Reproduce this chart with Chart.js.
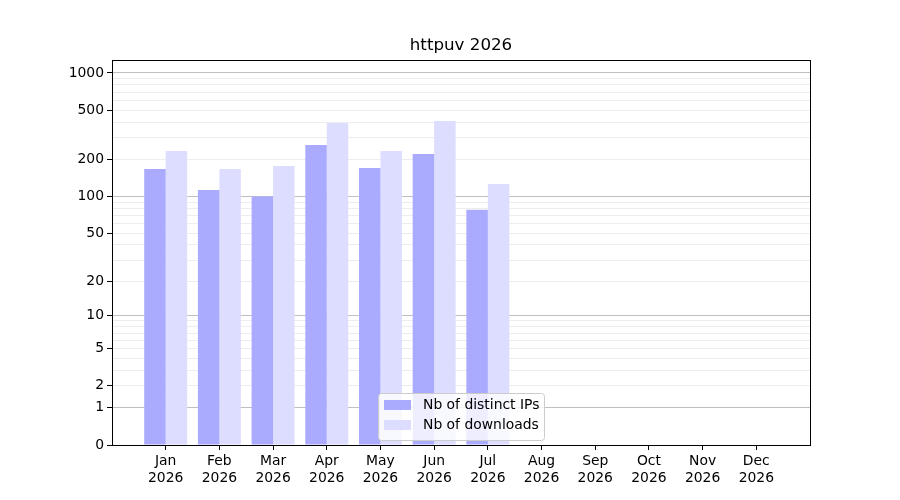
<!DOCTYPE html>
<html lang="en">
  <head>
    <meta charset="UTF-8" />
    <title>httpuv 2026</title>
    <script src="https://cdn.jsdelivr.net/npm/chart.js@4/dist/chart.umd.min.js"></script>
    <style>
      html, body { margin: 0; padding: 0; background: #fff; }
      #wrap { width: 900px; height: 500px; }
    </style>
  </head>
  <body>
    <div id="wrap"><canvas id="myChart" width="900" height="500"></canvas></div>

    <script>
      // data
      var months = ["Jan", "Feb", "Mar", "Apr", "May", "Jun", "Jul", "Aug", "Sep", "Oct", "Nov", "Dec"];
      var year = "2026";
      var distinctIPs = [167, 113, 100, 262, 170, 221, 78, 0, 0, 0, 0, 0];
      var downloads = [234, 167, 177, 394, 234, 409, 126, 0, 0, 0, 0, 0];
      var yTickLabels = [0, 1, 2, 5, 10, 20, 50, 100, 200, 500, 1000];
      var yDecades = [1, 10, 100, 1000];

      // y axis is log10(1 + v), like the original
      function f(v) { return Math.log10(1 + v); }

      var gridValues = [0];
      yDecades.forEach(function (d) {
        for (var m = 1; m <= 9; m++) gridValues.push(d * m);
      });

      class Log1pScale extends Chart.Scale {
        static id = "log1p";
        static defaults = {};
        determineDataLimits() {
          var mm = this.getMinMax(true);
          this.min = this.options.min != null ? this.options.min : 0;
          this.max = this.options.max != null ? this.options.max : mm.max;
        }
        buildTicks() {
          var self = this;
          return gridValues
            .filter(function (v) { return v >= self.min && v <= self.max; })
            .map(function (v) { return { value: v, major: yDecades.indexOf(v) >= 0 }; });
        }
        generateTickLabels(ticks) {
          ticks.forEach(function (t) {
            t.label = yTickLabels.indexOf(t.value) >= 0 ? String(t.value) : "";
          });
        }
        getLabelForValue(v) { return String(v); }
        configure() {
          super.configure();
          this._startValue = f(this.min);
          this._valueRange = f(this.max) - f(this.min);
        }
        getPixelForValue(v) {
          return this.getPixelForDecimal((f(v) - this._startValue) / this._valueRange);
        }
        getValueForPixel(p) {
          return Math.pow(10, this._startValue + this.getDecimalForPixel(p) * this._valueRange) - 1;
        }
      }
      Chart.register(Log1pScale);

      Chart.defaults.font.family = "'DejaVu Sans', sans-serif";
      Chart.defaults.font.size = 13.9;
      Chart.defaults.color = "#000";

      function pts(arr) {
        return arr.map(function (v, i) { return { x: i, y: v }; });
      }

      // frame + legend box drawn like matplotlib
      var framePlugin = {
        id: "frame",
        afterDraw: function (chart) {
          var ctx = chart.ctx, a = chart.chartArea;
          ctx.save();
          ctx.strokeStyle = "#000";
          ctx.lineWidth = 1;
          ctx.strokeRect(Math.round(a.left) + 0.5, Math.round(a.top) + 0.5,
            Math.round(a.right - a.left), Math.round(a.bottom - a.top));

          // legend
          var w = 166, h = 47;
          var lx = (a.left + a.right) / 2 - w / 2;
          var ly = a.bottom - 5 - h;
          ctx.beginPath();
          ctx.roundRect(lx + 0.5, ly + 0.5, w, h, 3);
          ctx.fillStyle = "rgba(255,255,255,0.8)";
          ctx.fill();
          ctx.strokeStyle = "#cccccc";
          ctx.stroke();
          ctx.font = "13.9px 'DejaVu Sans', sans-serif";
          ctx.textBaseline = "middle";
          chart.data.datasets.forEach(function (ds, i) {
            var cy = ly + 12 + i * 20;
            ctx.fillStyle = ds.backgroundColor;
            ctx.fillRect(lx + 6, cy - 5, 27, 10);
            ctx.fillStyle = "#000";
            ctx.fillText(ds.label, lx + 45, cy);
          });
          ctx.restore();
        },
      };

      new Chart("myChart", {
        type: "bar",
        data: {
          datasets: [
            {
              label: "Nb of distinct IPs",
              data: pts(distinctIPs),
              backgroundColor: "#aaaaff",
              categoryPercentage: 0.8,
              barPercentage: 1.0,
            },
            {
              label: "Nb of downloads",
              data: pts(downloads),
              backgroundColor: "#ddddff",
              categoryPercentage: 0.8,
              barPercentage: 1.0,
            },
          ],
        },
        options: {
          responsive: false,
          animation: false,
          devicePixelRatio: 1,
          layout: { padding: { left: 0, right: 90, top: 0, bottom: 0 } },
          plugins: {
            legend: { display: false },
            tooltip: { enabled: false },
            title: {
              display: true,
              text: "httpuv 2026",
              fullSize: false,
              font: { size: 16.7, weight: "normal" },
              color: "#000",
              padding: { top: 36, bottom: 4 },
            },
          },
          scales: {
            x: {
              type: "linear",
              min: -1,
              max: 12,
              offset: false,
              afterBuildTicks: function (scale) {
                scale.ticks = months.map(function (m, i) { return { value: i }; });
              },
              afterFit: function (scale) { scale.height = 55; },
              ticks: {
                autoSkip: false,
                maxRotation: 0,
                padding: 3,
                callback: function (v) { return [months[v], year]; },
              },
              grid: { offset: false, drawOnChartArea: false, tickLength: 5, tickColor: "#000" },
              border: { color: "#000" },
            },
            y: {
              type: "log1p",
              min: 0,
              max: 1270,
              z: 1,
              afterFit: function (scale) { scale.width = 112; },
              ticks: { autoSkip: false, padding: 3 },
              grid: {
                tickLength: 5,
                color: function (c) {
                  if (!c.tick) return "rgba(0,0,0,0)";
                  return yDecades.indexOf(c.tick.value) >= 0 ? "rgba(0,0,0,0.25)" : "rgba(0,0,0,0.07)";
                },
                tickColor: function (c) {
                  if (!c.tick) return "rgba(0,0,0,0)";
                  return yTickLabels.indexOf(c.tick.value) >= 0 ? "#000" : "rgba(0,0,0,0)";
                },
              },
              border: { color: "#000" },
            },
          },
        },
        plugins: [framePlugin],
      });
    </script>
  </body>
</html>
